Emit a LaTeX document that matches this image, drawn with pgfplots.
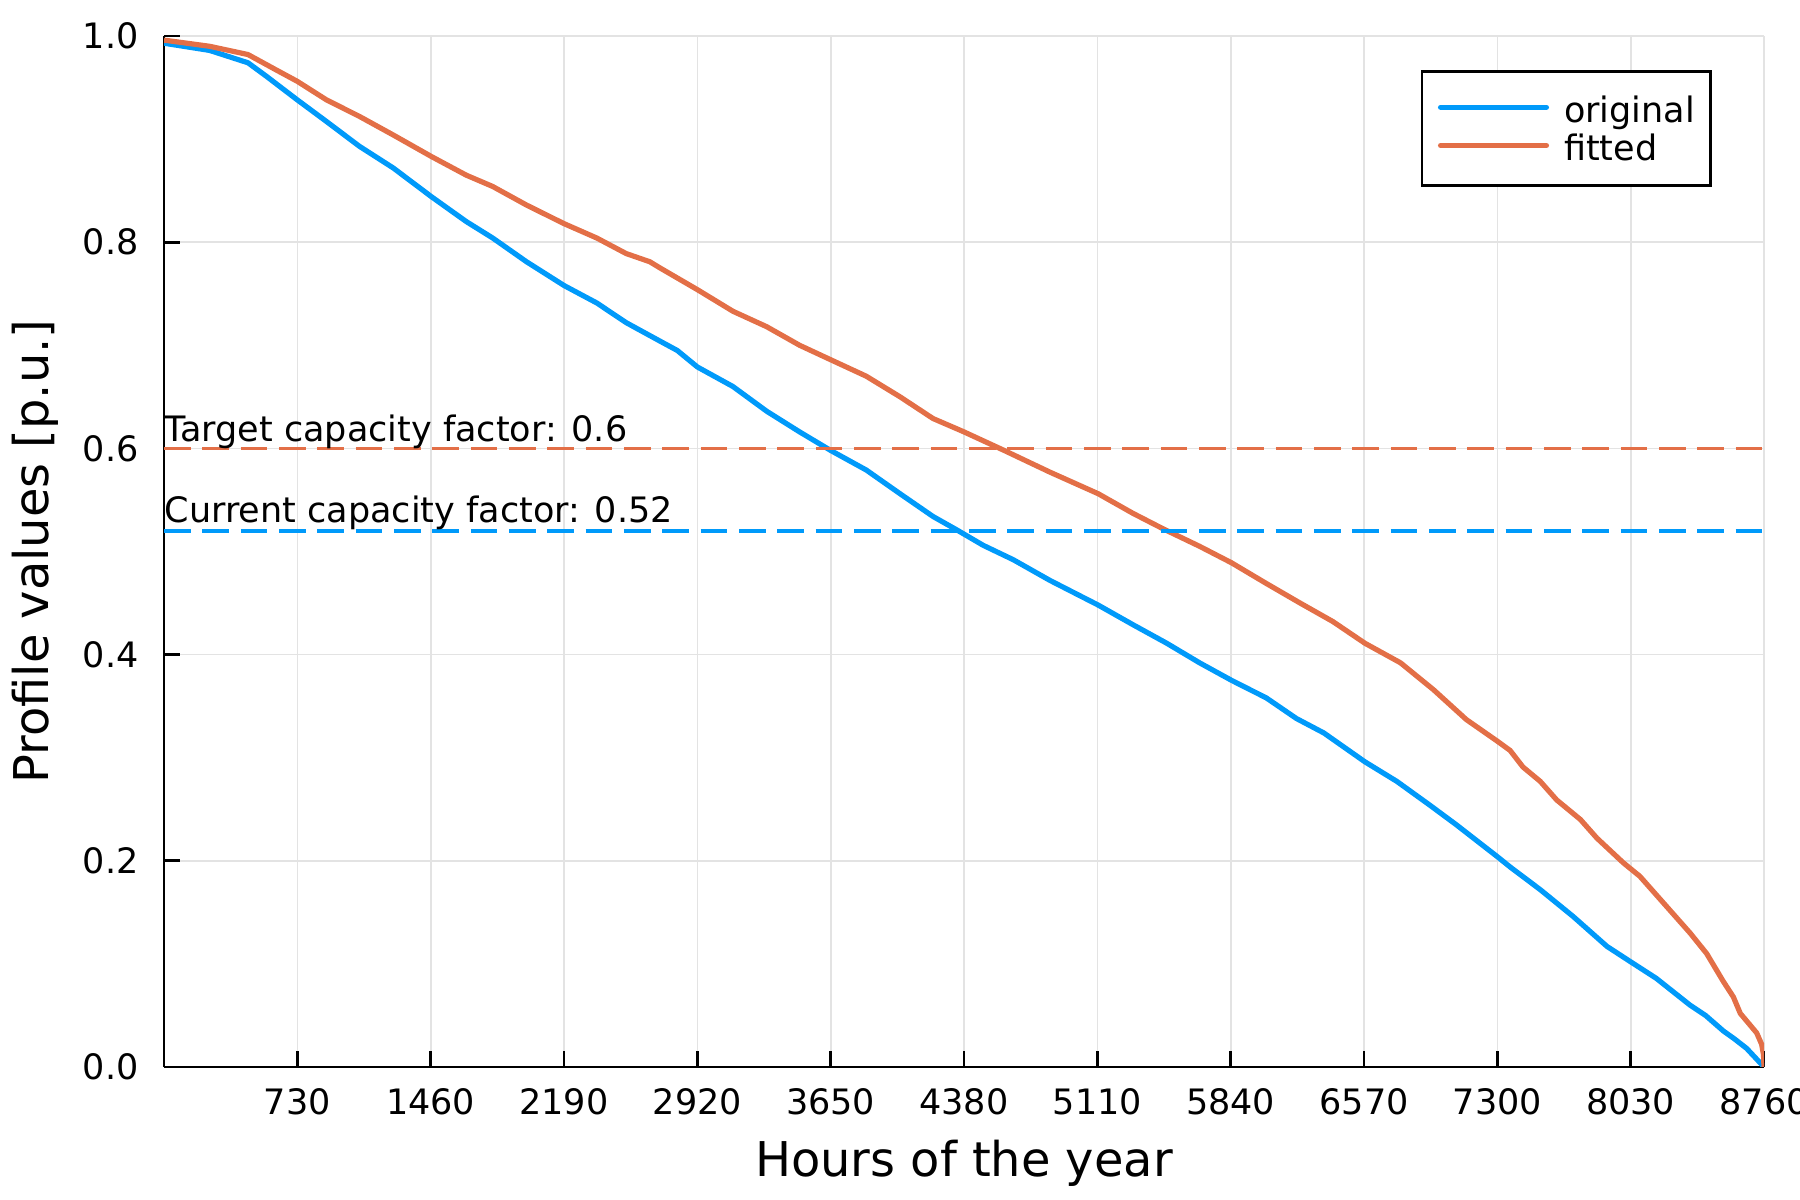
\documentclass[border=0pt]{standalone}
\usepackage{fontspec}
\setmainfont{DejaVu Sans}
\usepackage{pgfplots}
\pgfplotsset{compat=1.18}
\definecolor{jblue}{RGB}{0,154,250}
\definecolor{jorange}{RGB}{227,111,71}
\newcommand{\smallfont}{\fontsize{8.4bp}{10bp}\selectfont}
\newcommand{\labelfont}{\fontsize{11.5bp}{13bp}\selectfont}
\begin{document}
\begin{tikzpicture}
\begin{axis}[
  at={(0,0)}, anchor=south west,
  scale only axis, width=384bp, height=247.44bp,
  xmin=0, xmax=8760, ymin=0, ymax=1,
  axis lines=left,
  axis line style={-, line width=0.64bp, black},
  xtick={730,1460,2190,2920,3650,4380,5110,5840,6570,7300,8030,8760},
  xticklabels={730,1460,2190,2920,3650,4380,5110,5840,6570,7300,8030,8760},
  ytick={0,0.2,0.4,0.6,0.8,1},
  yticklabels={0.0,0.2,0.4,0.6,0.8,1.0},
  tick align=inside,
  major tick length=3.8bp,
  tick style={black, line width=0.64bp},
  grid=major,
  major grid style={black!11, line width=0.4bp},
  /pgf/number format/assume math mode=true,
  ticklabel style={font=\smallfont},
  xticklabel style={anchor=north, inner sep=0pt, yshift=-5bp},
  yticklabel style={anchor=east, inner sep=0pt, xshift=-5.9bp},
  xlabel={Hours of the year},
  ylabel={Profile values [p.u.]},
  every axis x label/.style={at={(axis description cs:0.5,-0.1064)}, anchor=base, font=\labelfont},
  every axis y label/.style={at={(axis description cs:-0.0725,0.5)}, anchor=base, rotate=90, font=\labelfont},
  legend cell align=left,
  legend style={
    at={(0.9675,0.967)}, anchor=north east,
    draw=black, line width=0.64bp,
    inner xsep=3.8bp, inner ysep=4.5bp,
    row sep=0bp,
    font=\smallfont,
    nodes={inner sep=0pt, text height=7.8bp, text depth=1.4bp},
    /tikz/every odd column/.append style={column sep=3.6bp},
  },
  legend image code/.code={\draw[#1, line cap=round] (0.6bp,0.5bp) -- (26bp,0.5bp);},
]
\addplot[jblue, line width=1.25bp, line join=round] coordinates {
(0,0.993) (250,0.986) (460,0.974) (560,0.961) (730,0.938) (890,0.917)
(1070,0.893) (1255,0.872) (1465,0.844) (1655,0.820) (1800,0.804) (1985,0.781)
(2190,0.758) (2370,0.741) (2530,0.722) (2716,0.704) (2810,0.695) (2920,0.679)
(3115,0.660) (3300,0.636) (3480,0.616) (3650,0.598) (3845,0.579) (4030,0.556)
(4210,0.534) (4340,0.521) (4485,0.506) (4650,0.492) (4850,0.472) (5115,0.448)
(5305,0.429) (5490,0.411) (5670,0.392) (5845,0.375) (6035,0.358) (6200,0.338)
(6350,0.324) (6575,0.296) (6750,0.277) (6930,0.254) (7075,0.235) (7300,0.204)
(7370,0.194) (7535,0.172) (7715,0.146) (7900,0.117) (8030,0.102) (8170,0.086)
(8355,0.060) (8440,0.050) (8537,0.035) (8600,0.027) (8665,0.018) (8760,0.0)
};
\addlegendentry{original}
\addplot[jorange, line width=1.25bp, line join=round] coordinates {
(0,0.996) (250,0.990) (460,0.982) (615,0.967) (730,0.956) (890,0.938)
(1070,0.922) (1255,0.904) (1465,0.883) (1655,0.865) (1800,0.854) (1985,0.836)
(2190,0.818) (2370,0.804) (2530,0.789) (2660,0.781) (2716,0.775) (2920,0.754)
(3115,0.733) (3300,0.718) (3480,0.700) (3650,0.686) (3845,0.670) (4030,0.650)
(4210,0.629) (4380,0.616) (4600,0.598) (4850,0.577) (5115,0.556) (5305,0.537)
(5470,0.522) (5670,0.505) (5845,0.489) (6035,0.469) (6220,0.450) (6400,0.432)
(6575,0.411) (6770,0.392) (6950,0.366) (7130,0.337) (7300,0.316) (7370,0.307)
(7440,0.291) (7535,0.277) (7625,0.259) (7755,0.240) (7845,0.222) (7990,0.198)
(8080,0.185) (8210,0.159) (8355,0.130) (8446,0.110) (8537,0.083) (8592,0.068)
(8630,0.052) (8720,0.033) (8747,0.022) (8757,0.012) (8760,0.0)
};
\addlegendentry{fitted}
\addplot[forget plot, jorange, line width=0.8bp, dash pattern=on 6.4bp off 2.8bp] coordinates {(0,0.6) (8760,0.6)};
\addplot[forget plot, jblue, line width=0.8bp, dash pattern=on 6.4bp off 2.8bp] coordinates {(0,0.52) (8760,0.52)};
\node[anchor=base west, inner sep=0pt, font=\smallfont, yshift=1.6bp] at (axis cs:0,0.6) {Target capacity factor: 0.6};
\node[anchor=base west, inner sep=0pt, font=\smallfont, yshift=1.9bp] at (axis cs:0,0.52) {Current capacity factor: 0.52};
\end{axis}
\pgfresetboundingbox
\path (-39.36bp,-31.92bp) rectangle (392.64bp,256.08bp);
\end{tikzpicture}
\end{document}
